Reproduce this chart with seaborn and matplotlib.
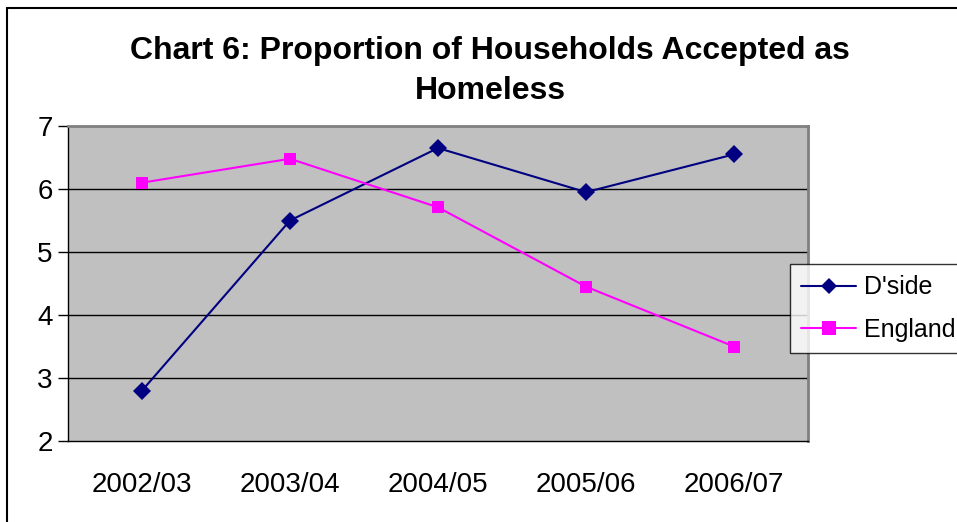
import matplotlib
matplotlib.use("Agg")
import matplotlib.pyplot as plt
import seaborn as sns
import pandas as pd
from matplotlib.lines import Line2D

years = ["2002/03", "2003/04", "2004/05", "2005/06", "2006/07"]
dside = [2.8, 5.5, 6.65, 5.95, 6.55]
england = [6.1, 6.48, 5.71, 4.45, 3.5]
series_names = ["D'side", "England"]
title = "Chart 6: Proportion of Households Accepted as\nHomeless"

df = pd.DataFrame({
    "year": years * 2,
    "value": dside + england,
    "series": [series_names[0]] * len(years) + [series_names[1]] * len(years),
})

sns.set_style("white")
plt.rcParams["font.family"] = ["Liberation Sans", "DejaVu Sans"]
plt.rcParams["text.color"] = "black"
plt.rcParams["xtick.color"] = "black"
plt.rcParams["ytick.color"] = "black"

W, H = 957, 522
fig = plt.figure(figsize=(W / 100, H / 100), dpi=100)
ax = fig.add_axes([68 / W, 1 - 441 / H, (808 - 68) / W, (441 - 126) / H])
ax.set_facecolor("#C0C0C0")

colors = {"D'side": "#000080", "England": "#FF00FF"}
markers = {"D'side": "D", "England": "s"}

sns.lineplot(data=df, x="year", y="value", hue="series", style="series",
             palette=colors, markers=markers, dashes=False, ax=ax,
             legend=False, linewidth=1.5, markersize=9, markeredgewidth=0,
             sort=False, zorder=3)

ax.set_xlim(-0.5, len(years) - 0.5)
ax.set_ylim(2, 7)
ax.set_yticks([2, 3, 4, 5, 6, 7])
for y in [3, 4, 5, 6]:
    ax.axhline(y, color="black", lw=1, zorder=1)
ax.set_xlabel("")
ax.set_ylabel("")
ax.set_xticks(range(len(years)))
ax.set_xticklabels(years)
ax.set_xticks([i - 0.5 for i in range(len(years) + 1)], minor=True)
ax.tick_params(axis="x", which="major", length=0, labelsize=20, pad=22,
               labelcolor="black")
ax.tick_params(axis="x", which="minor", length=7, width=1, color="black", direction="out")
ax.tick_params(axis="y", which="major", length=7, width=1, color="black",
               direction="out", labelsize=20, pad=4, left=True, labelcolor="black")
for s in ["top", "right"]:
    ax.spines[s].set_color("#808080")
    ax.spines[s].set_linewidth(2)
for s in ["left", "bottom"]:
    ax.spines[s].set_color("black")
    ax.spines[s].set_linewidth(1)

fig.text(490 / W, 1 - 71 / H, title, ha="center", va="center",
         fontsize=23, fontweight="bold", linespacing=1.45, color="black")

# outer frame (left and top)
fig.add_artist(Line2D([7 / W, 7 / W], [0, 1 - 8 / H], color="black", lw=1.5,
                      transform=fig.transFigure))
fig.add_artist(Line2D([7 / W, 1], [1 - 8 / H, 1 - 8 / H], color="black", lw=1.5,
                      transform=fig.transFigure))

handles = [Line2D([], [], color=colors[n], marker=markers[n],
                  markersize=10 if n == "England" else 8,
                  markeredgewidth=0, lw=1.5) for n in series_names]
leg = fig.legend(handles, series_names, loc="upper left",
                 bbox_to_anchor=(790 / W, 1 - 264 / H), fontsize=18,
                 frameon=True, fancybox=False, edgecolor="black",
                 handlelength=2.2, handletextpad=0.3, borderpad=0.45,
                 labelspacing=0.75, borderaxespad=0)
leg.get_frame().set_linewidth(1)
for t in leg.get_texts():
    t.set_color("black")

fig.savefig("out.png", dpi=100)
